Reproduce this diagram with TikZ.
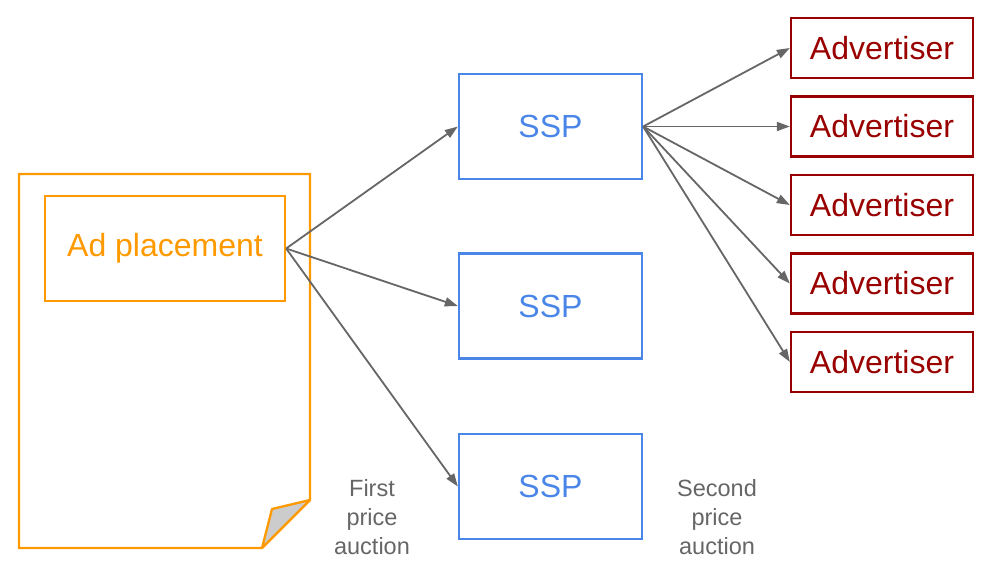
\documentclass[tikz,border=0pt]{standalone}
\usepackage{fontspec}
\setmainfont{Liberation Sans}
\usetikzlibrary{arrows.meta}
\definecolor{orng}{HTML}{FF9900}
\definecolor{blu}{HTML}{4A86E8}
\definecolor{dred}{HTML}{990000}
\definecolor{gry}{HTML}{666666}
\begin{document}
\begin{tikzpicture}[x=1pt,y=-1pt,
  box/.style={draw,line width=2.3pt,minimum width=183pt,minimum height=105pt,inner sep=0pt,font=\fontsize{32}{36}\selectfont},
  ssp/.style={box,draw=blu,text=blu},
  adv/.style={box,draw=dred,text=dred,minimum height=60pt,minimum width=182pt},
  arr/.style={draw=gry,line width=1.8pt,-{Triangle[length=13pt,width=9pt]}},
  lbl/.style={text=gry,align=center,font=\fontsize{23.5}{29}\selectfont}]
\useasboundingbox (0,0) rectangle (998,576);
% page
\draw[orng,line width=2.3pt,line join=miter] (19,174) -- (310,174) -- (310,500) -- (262,548) -- (19,548) -- cycle;
\draw[orng,line width=2.3pt,fill=black!20,line join=round] (310,500) -- (272,509) -- (262,548) -- cycle;
\node[box,draw=orng,text=orng,minimum width=240pt] (ad) at (165,248.5) {Ad placement};
\node[ssp] (s1) at (550.5,126.5) {SSP};
\node[ssp] (s2) at (550.5,306) {SSP};
\node[ssp] (s3) at (550.5,486.5) {SSP};
\node[adv] (a1) at (882,48) {Advertiser};
\node[adv] (a2) at (882,126.5) {Advertiser};
\node[adv] (a3) at (882,205) {Advertiser};
\node[adv] (a4) at (882,283.5) {Advertiser};
\node[adv] (a5) at (882,362) {Advertiser};
\foreach \s in {s1,s2,s3} \draw[arr] (ad.east) -- (\s.west);
\foreach \a in {a1,a2,a3,a4,a5} \draw[arr] (s1.east) -- (\a.west);
\node[lbl] (l1) at (372,517) {First\\price\\auction};
\node[lbl] (l2) at (717,517) {Second\\price\\auction};
\end{tikzpicture}
\end{document}
